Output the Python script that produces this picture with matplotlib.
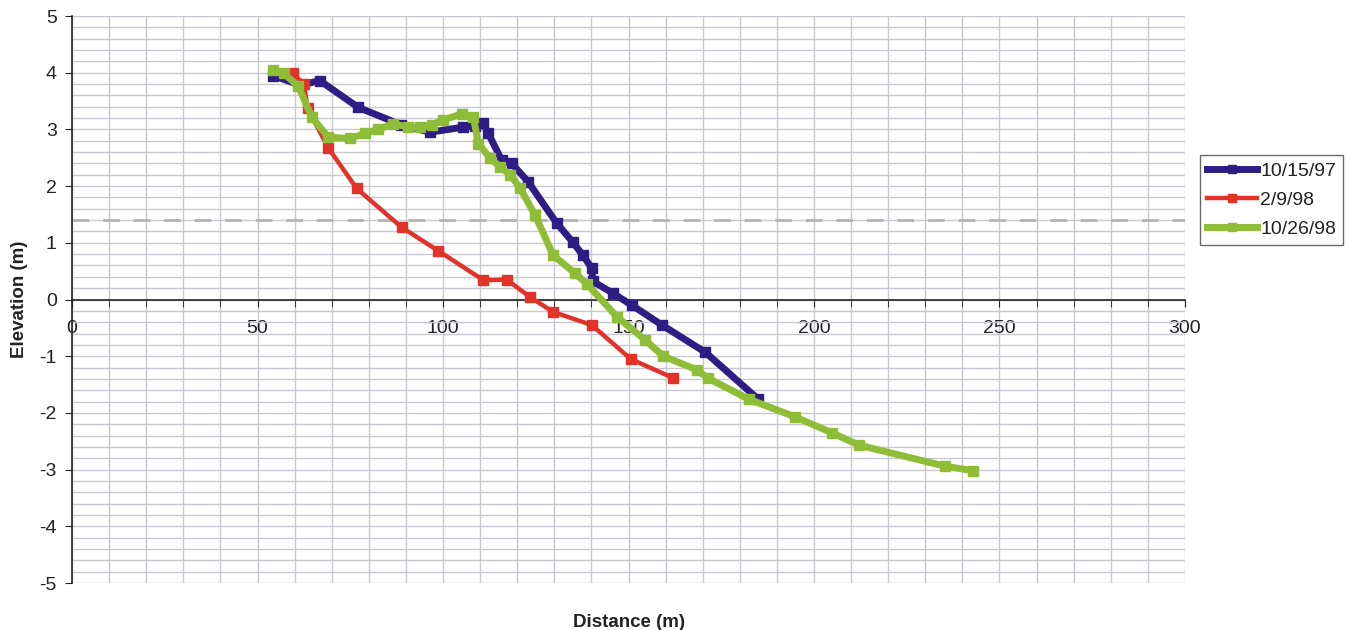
import matplotlib
matplotlib.use("Agg")
import matplotlib.pyplot as plt
from matplotlib.ticker import MultipleLocator

plt.rcParams['font.family'] = ['Liberation Sans', 'DejaVu Sans']
plt.rcParams['axes.unicode_minus'] = False

# 10/15/97
x_9710 = [54.2, 61.5, 66.8, 77.1, 88.7, 96.5, 105.4, 108.5, 110.8, 112.1, 115.8, 118.5,
          122.9, 130.6, 135.0, 137.7, 140.1, 140.4, 145.8, 150.9, 159.0, 170.7, 185.0]
y_9710 = [3.95, 3.78, 3.86, 3.39, 3.08, 2.95, 3.04, 3.06, 3.11, 2.94, 2.46, 2.40,
          2.08, 1.35, 1.01, 0.78, 0.55, 0.32, 0.11, -0.10, -0.45, -0.93, -1.76]

# 2/9/98
x_9802 = [59.5, 62.5, 63.5, 69.1, 76.7, 88.9, 98.7, 110.9, 117.2, 123.5, 129.7,
          140.1, 150.6, 161.9]
y_9802 = [3.99, 3.80, 3.37, 2.67, 1.96, 1.27, 0.86, 0.34, 0.35, 0.04, -0.22,
          -0.45, -1.05, -1.38]

# 10/26/98
x_9810 = [54.3, 57.0, 61.0, 64.6, 69.1, 74.9, 79.0, 82.6, 86.6, 90.6, 93.8, 97.0,
          100.1, 105.0, 108.2, 109.5, 112.7, 115.4, 118.1, 120.8, 124.8, 129.7,
          135.6, 138.9, 146.8, 154.4, 159.4, 168.4, 171.5, 182.5, 194.9, 204.8,
          212.2, 235.3, 242.9]
y_9810 = [4.05, 3.99, 3.76, 3.22, 2.86, 2.84, 2.93, 3.00, 3.10, 3.04, 3.04, 3.08,
          3.17, 3.27, 3.22, 2.75, 2.49, 2.34, 2.20, 1.96, 1.49, 0.78,
          0.46, 0.27, -0.30, -0.71, -1.00, -1.24, -1.39, -1.76, -2.07, -2.35,
          -2.57, -2.94, -3.02]

ref_level = 1.4
x_ticks = [0, 50, 100, 150, 200, 250, 300]
y_ticks = [-5, -4, -3, -2, -1, 0, 1, 2, 3, 4, 5]

fig = plt.figure(figsize=(13.47, 6.3), dpi=100)
ax = fig.add_axes([0.0535, 0.0746, 0.8262, 0.9000])

grid_c = '#c8c8d0'
ax.set_xlim(0, 300)
ax.set_ylim(-5, 5)
ax.xaxis.set_minor_locator(MultipleLocator(10))
ax.yaxis.set_minor_locator(MultipleLocator(0.2))
ax.set_xticks(x_ticks)
ax.set_yticks(y_ticks)
ax.grid(which='both', color=grid_c, linewidth=1.0)
ax.set_axisbelow(True)

ax.spines['top'].set_visible(False)
ax.spines['right'].set_visible(False)
ax.spines['bottom'].set_position(('data', 0))
ax.spines['bottom'].set_color('#222222')
ax.spines['left'].set_color('#222222')
ax.spines['bottom'].set_linewidth(1.2)
ax.spines['left'].set_linewidth(1.2)

ax.tick_params(axis='x', which='both', direction='out', length=5, color='#222222',
               labelsize=14, pad=10, labelcolor='#222222')
ax.tick_params(axis='y', which='major', direction='out', length=5, color='#222222',
               labelsize=14, pad=6, labelcolor='#222222')
ax.tick_params(axis='y', which='minor', length=0)

ax.axhline(ref_level, color='#b4b4b4', linewidth=2, dashes=(6, 5), zorder=1.5)

ms = 7
ax.plot(x_9710, y_9710, color='#2f1d86', lw=5.0, marker='s', ms=ms, label='10/15/97', zorder=3)
ax.plot(x_9802, y_9802, color='#e2332a', lw=3.2, marker='s', ms=ms, label='2/9/98', zorder=3)
ax.plot(x_9810, y_9810, color='#8fbd37', lw=5.0, marker='s', ms=ms, label='10/26/98', zorder=3)

ax.set_xlabel('Distance (m)', fontsize=13.5, fontweight='bold', color='#222222')
ax.xaxis.set_label_coords(0.5, -0.055)
ax.set_ylabel('Elevation (m)', fontsize=13.5, fontweight='bold', color='#222222')
ax.yaxis.set_label_coords(-0.0395, 0.5)

leg = ax.legend(loc='center left', bbox_to_anchor=(1.0135, 0.6755), fontsize=14,
                frameon=True, fancybox=False, edgecolor='#444444', handlelength=2.6,
                handletextpad=0.15, borderpad=0.35, labelspacing=0.6, borderaxespad=0,
                markerscale=0.75)
leg.get_frame().set_linewidth(1.0)
for t in leg.get_texts():
    t.set_color('#222222')

fig.savefig('out.png', dpi=100)
